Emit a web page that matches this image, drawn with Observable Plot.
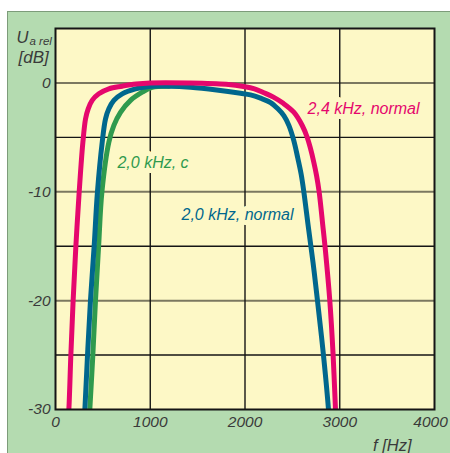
<!DOCTYPE html>
<html>
<head>
<meta charset="utf-8">
<script src="https://cdn.jsdelivr.net/npm/d3@7"></script>
<script src="https://cdn.jsdelivr.net/npm/@observablehq/plot@0.6"></script>
<style>
  html, body { margin: 0; padding: 0; background: #ffffff; }
  #wrap { position: relative; width: 450px; height: 453px; overflow: hidden; }
  #panel { position: absolute; left: 7px; top: 11px; width: 443px; height: 442px;
           background: #b4dbb0; border-left: 1px solid #7d9c7a; border-top: 1px solid #7d9c7a;
           box-sizing: border-box; }
  #chart { position: absolute; left: 0; top: 0; }
</style>
</head>
<body>
<div id="wrap"><div id="panel"></div><div id="chart"></div></div>
<script>
// ---- data ----
const seriesNames = ["2,4 kHz, normal", "2,0 kHz, normal", "2,0 kHz, c"];

const freq24normal = [132, 141, 162, 186, 215, 250, 270, 289, 317, 345, 387, 457, 563, 704, 850, 1000, 1400, 1800, 2000, 2100, 2200, 2300, 2400, 2515, 2604, 2656, 2691, 2726, 2755, 2783, 2820, 2850, 2895, 2930, 2955, 2962];
const db24normal   = [-31, -30, -25, -20, -15, -10, -7.5, -5.45, -3.3, -2.38, -1.6, -1.0, -0.54, -0.3, -0.1, 0, 0, -0.12, -0.35, -0.55, -0.9, -1.3, -1.85, -2.69, -3.91, -4.99, -6.02, -7.28, -8.5, -10.04, -13, -15.5, -20, -25, -30, -31];

const freq20normal = [302, 310, 338, 369, 408, 443, 493, 528, 563, 616, 704, 844, 985, 1200, 1425, 1700, 1953, 2058, 2164, 2270, 2350, 2410, 2463, 2515, 2557, 2593, 2621, 2668, 2718, 2765, 2828, 2881, 2888];
const db20normal   = [-31, -30, -25, -20, -15, -10, -5.45, -3.3, -2.38, -1.6, -1.0, -0.54, -0.33, -0.3, -0.4, -0.65, -0.95, -1.1, -1.4, -1.8, -2.4, -3.0, -3.9, -5.3, -6.9, -8.4, -10.0, -13.2, -16.5, -20, -25, -30, -31];

const freq20c = [356, 362, 394, 422, 455, 490, 563, 616, 686, 792, 915, 1020, 1200];
const db20c   = [-31, -30, -25, -20, -15, -10, -5.45, -3.9, -2.7, -1.6, -0.85, -0.4, -0.3];

const xTicks = [0, 1000, 2000, 3000];
const xTickLast = [4000];
const yTicks = [0, -10, -20, -30];
const xGrid = [1000, 2000, 3000];
const yGridMajor = [0, -10, -20];
const yGridMinor = [-5, -15, -25];

const labelText = ["2,4 kHz, normal", "2,0 kHz, normal", "2,0 kHz, c"];
const labelF    = [2660, 1330, 654];
const labelDb   = [-2.35, -12.1, -7.3];

// ---- build tables ----
const zip = (name, fs, ds) => fs.map((f, i) => ({series: name, f, db: ds[i]}));
const rows24 = zip(seriesNames[0], freq24normal, db24normal);
const rows20 = zip(seriesNames[1], freq20normal, db20normal);
const rows20c = zip(seriesNames[2], freq20c, db20c);
const labels = labelText.map((t, i) => ({text: t, f: labelF[i], db: labelDb[i]}));

const colors = {
  [seriesNames[0]]: "#e5076d",
  [seriesNames[1]]: "#00678d",
  [seriesNames[2]]: "#2f9a4e"
};
const plotBg = "#fdf8c6";
const font = "'Liberation Sans', Arial, sans-serif";
const textCol = "#3a3a3a";
const tickStyle = {tickSize: 0, label: null, tickFormat: d => String(d), fontSize: 15.5, fontStyle: "italic", fill: textCol, fontFamily: font};

const chart = Plot.plot({
  width: 450,
  height: 453,
  marginLeft: 55,
  marginRight: 16,
  marginTop: 28,
  marginBottom: 44,
  style: {background: "transparent", fontFamily: font, overflow: "visible"},
  x: {domain: [0, 4000]},
  y: {domain: [-30, 5]},
  marks: [
    Plot.frame({fill: plotBg, stroke: null}),
    Plot.ruleY(yGridMinor, {stroke: "#151515", strokeWidth: 1.4}),
    Plot.ruleY(yGridMajor, {stroke: "#7b7860", strokeWidth: 2}),
    Plot.ruleX(xGrid, {stroke: "#151515", strokeWidth: 1.4}),
    Plot.line(rows20c, {x: "f", y: "db", stroke: colors[seriesNames[2]], strokeWidth: 5, curve: "catmull-rom", clip: true}),
    Plot.line(rows20, {x: "f", y: "db", stroke: colors[seriesNames[1]], strokeWidth: 5, curve: "catmull-rom", clip: true}),
    Plot.line(rows24, {x: "f", y: "db", stroke: colors[seriesNames[0]], strokeWidth: 5, curve: "catmull-rom", clip: true}),
    Plot.text(labels, {
      x: "f", y: "db", text: "text",
      fill: d => colors[d.text],
      stroke: plotBg, strokeWidth: 10,
      textAnchor: "start", lineAnchor: "middle",
      fontSize: 16, fontStyle: "italic", fontFamily: font
    }),
    Plot.frame({stroke: "#151515", strokeWidth: 2}),
    Plot.axisX({ticks: xTicks, tickPadding: 6, ...tickStyle}),
    Plot.axisX({ticks: xTickLast, tickPadding: 6, dx: -4, ...tickStyle}),
    Plot.axisY({ticks: yTicks, tickPadding: 5, ...tickStyle}),
    Plot.text(["U"], {text: d => d, frameAnchor: "top-left", dx: -39, dy: 14, lineAnchor: "bottom", textAnchor: "start",
      fontSize: 16.5, fontStyle: "italic", fill: textCol, fontFamily: font}),
    Plot.text(["a rel"], {text: d => d, frameAnchor: "top-left", dx: -26, dy: 16, lineAnchor: "bottom", textAnchor: "start",
      fontSize: 11.5, fontStyle: "italic", fill: textCol, fontFamily: font}),
    Plot.text(["[dB]"], {text: d => d, frameAnchor: "top-left", dx: -37, dy: 34, lineAnchor: "bottom", textAnchor: "start",
      fontSize: 17, fontStyle: "italic", fill: textCol, fontFamily: font}),
    Plot.text(["f [Hz]"], {text: d => d, frameAnchor: "bottom-right", dx: -23, dy: 41, lineAnchor: "bottom", textAnchor: "end",
      fontSize: 16.5, fontStyle: "italic", fill: textCol, fontFamily: font})
  ]
});
document.getElementById("chart").appendChild(chart);
</script>
</body>
</html>
